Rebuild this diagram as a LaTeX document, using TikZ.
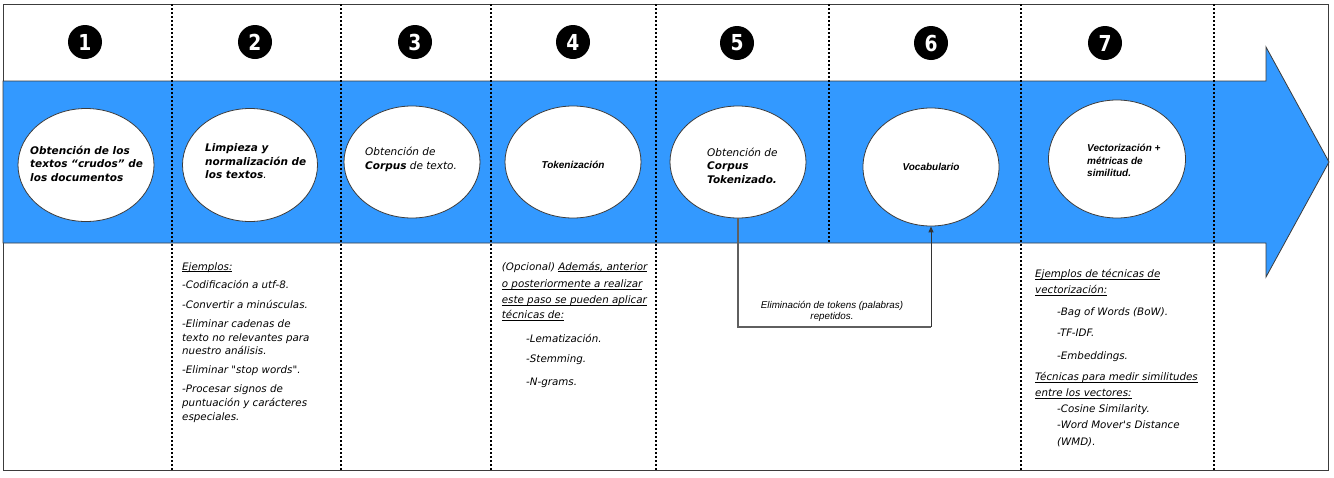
\documentclass[tikz,border=0pt]{standalone}
\usepackage{fontspec}
\setmainfont{DejaVu Sans}
\newfontfamily\dvs{DejaVu Sans}
\newfontfamily\arl{Liberation Sans}
\newfontfamily\numf[FakeStretch=0.85]{DejaVu Sans}
\usetikzlibrary{arrows.meta,shapes.geometric}
\definecolor{bandblue}{RGB}{51,153,255}
\definecolor{edgec}{RGB}{60,60,60}
\definecolor{connc}{RGB}{95,95,95}
\newcommand\myul[1]{\setbox0\hbox{#1}\rlap{\rule[-1.7pt]{\wd0}{0.7pt}}\box0}
\tikzset{
  ell/.style={ellipse,draw=edgec,fill=white,line width=0.8pt,inner sep=0pt,minimum width=136pt,minimum height=113pt},
  etxt/.style={inner sep=0pt,align=left,anchor=west,font=\dvs\itshape\fontsize{10.5}{13.5}\selectfont},
  atxt/.style={inner sep=0pt,align=left,font=\arl\bfseries\itshape\fontsize{10}{12.5}\selectfont},
  ltxt/.style={inner sep=0pt,anchor=base west,font=\dvs\itshape\fontsize{10.3}{12}\selectfont},
  numc/.style={circle,fill=black,inner sep=0pt,minimum size=34pt,text=white,font=\numf\bfseries\fontsize{22}{22}\selectfont},
  dotline/.style={line width=1.5pt,dash pattern=on 1.5pt off 2.5pt,black},
  conn/.style={draw=connc,line width=1.2pt},
}
\begin{document}
\begin{tikzpicture}[x=1pt,y=-1pt]
\useasboundingbox (0,0) rectangle (1334,477);
\fill[white] (0,0) rectangle (1334,477);
\draw[edgec,line width=1pt] (3,4) rectangle (1328,470);
% band arrow
\draw[fill=bandblue,draw=edgec,line width=0.8pt] (3,81) -- (1266,81) -- (1266,47) -- (1329,162) -- (1266,277) -- (1266,243) -- (3,243) -- cycle;
% dotted separators
\foreach \x in {172,341,491,656,1021,1214} \draw[dotline] (\x,4) -- (\x,470);
\draw[dotline] (829,4) -- (829,243);
% numbers
\node[numc] (n1) at (85,42) {1};
\node[numc] (n2) at (255,42) {2};
\node[numc] (n3) at (415,42) {3};
\node[numc] (n4) at (573,42) {4};
\node[numc] (n5) at (737,43) {5};
\node[numc] (n6) at (931,43) {6};
\node[numc] (n7) at (1105,43) {7};
% ellipses
\node[ell] (e1) at (86,165) {};
\node[ell,minimum width=135pt] (e2) at (250,165) {};
\node[ell,minimum height=112pt] (e3) at (412,162) {};
\node[ell,minimum height=112pt] (e4) at (573,162) {};
\node[ell,minimum height=112pt] (e5) at (738,162) {};
\node[ell,minimum height=118pt] (e6) at (931,167) {};
\node[ell,minimum width=137pt,minimum height=118pt] (e7) at (1117,159) {};
% ellipse texts
\node[etxt,font=\dvs\bfseries\itshape\fontsize{10.5}{13.5}\selectfont] (t1) at (30,163.5) {Obtención de los\\textos “crudos” de\\los documentos};
\node[etxt,font=\dvs\bfseries\itshape\fontsize{10.5}{13.5}\selectfont] (t2) at (205,161.5) {Limpieza y\\normalización de\\los textos{\mdseries.}};
\node[etxt] (t3) at (365,159.5) {Obtención de\\{\bfseries Corpus} de texto.};
\node[atxt] (t4) at (573,165) {Tokenización};
\node[etxt] (t5) at (707,165.5) {Obtención de\\{\bfseries Corpus}\\{\bfseries Tokenizado.}};
\node[atxt] (t6) at (931,167) {Vocabulario};
\node[atxt,anchor=west] (t7) at (1087,160.5) {Vectorización +\\métricas de\\similitud.};
% connector 5 -> 6
\coordinate (c1) at (738,327);
\coordinate (c2) at (931,327);
\draw[conn] (e5.south) -- (c1) -- (c2);
\draw[conn,draw=black!80,line width=1pt,-{Triangle[length=6pt,width=5pt]}] (c2) -- (e6.south);
\node[inner sep=0pt,align=center,font=\arl\itshape\fontsize{9.8}{11}\selectfont] (lbl) at (832,311) {Eliminación de tokens (palabras)\\repetidos.};
% column 2 notes
\foreach \y/\t [count=\i] in {270.2/{\myul{Ejemplos:}},288.5/{-Codificación a utf-8.},308.5/{-Convertir a minúsculas.},327.5/{-Eliminar cadenas de},341.2/{texto no relevantes para},354.5/{nuestro análisis.},373.5/{-Eliminar "stop words".},392.5/{-Procesar signos de},406.5/{puntuación y carácteres},420.2/{especiales.}}
  \node[ltxt] (a\i) at (182,\y) {\t};
% column 4 notes
\foreach \y/\t [count=\i] in {270.2/{(Opcional) \myul{Además, anterior}},287.5/{\myul{o posteriormente a realizar}},303.5/{\myul{este paso se pueden aplicar}},318.5/{\myul{técnicas de:}}}
  \node[ltxt] (b\i) at (501.7,\y) {\t};
\foreach \y/\t [count=\i] in {342.5/{-Lematización.},362.5/{-Stemming.},385.5/{-N-grams.}}
  \node[ltxt] (bb\i) at (526,\y) {\t};
% column 7 notes
\foreach \y/\t [count=\i] in {277.5/{\myul{Ejemplos de técnicas de}},293.5/{\myul{vectorización:}},380.5/{\myul{Técnicas para medir similitudes}},396.5/{\myul{entre los vectores:}}}
  \node[ltxt] (g\i) at (1035,\y) {\t};
\foreach \y/\t [count=\i] in {315.5/{-Bag of Words (BoW).},336.5/{-TF-IDF.},359.5/{-Embeddings.},412.5/{-Cosine Similarity.},428.5/{-Word Mover's Distance},445.5/{(WMD).}}
  \node[ltxt] (gg\i) at (1057,\y) {\t};
\end{tikzpicture}
\end{document}
